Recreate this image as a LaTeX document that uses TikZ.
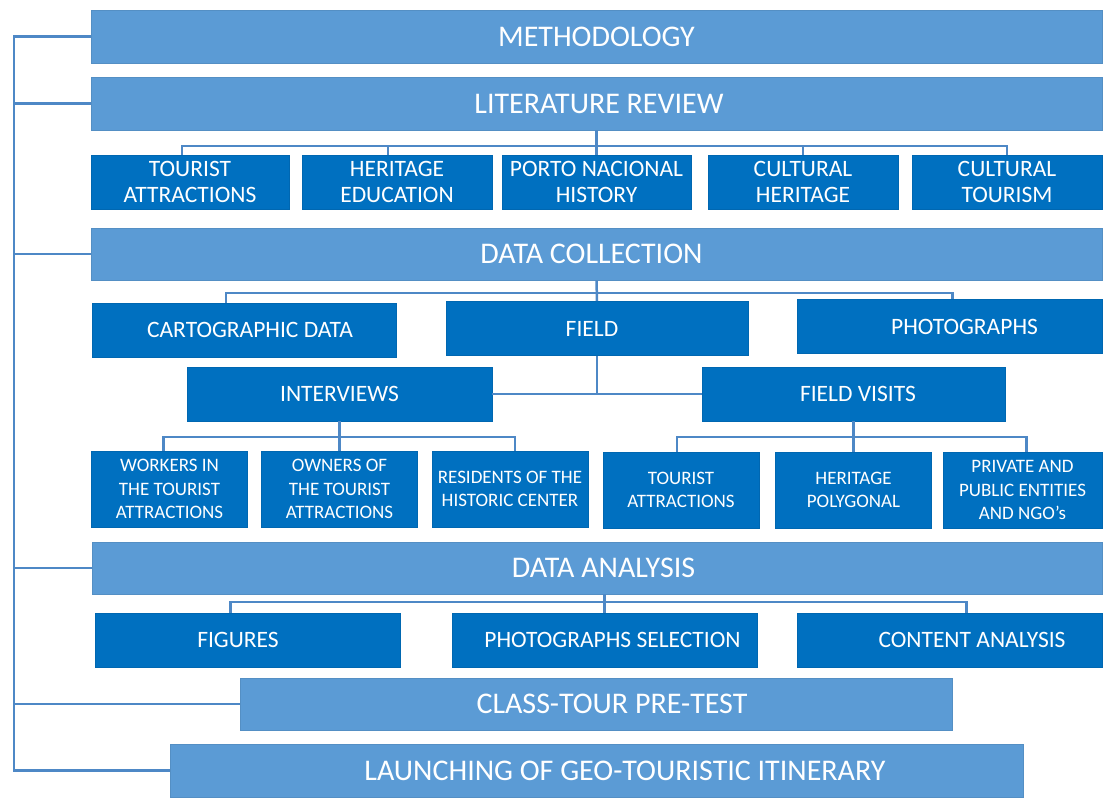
\documentclass[tikz,border=0pt]{standalone}
\usepackage{fontspec}
\setmainfont{Carlito}
\usepackage{tikz}
\usetikzlibrary{calc,positioning}
\definecolor{barblue}{RGB}{91,155,213}
\definecolor{boxblue}{RGB}{0,112,192}
\definecolor{linkblue}{RGB}{78,136,198}
\newcommand{\tshift}[1]{\hspace*{#1}}
\tikzset{
	bar/.style={rectangle, fill=barblue, draw=barblue!92!black, line width=0.6pt, text=white, inner sep=0pt, minimum height=53pt, font=\fontsize{30}{34}\selectfont},
	subbox/.style={rectangle, fill=boxblue, draw=boxblue!92!black, line width=0.6pt, text=white, inner sep=0pt, minimum width=304pt, minimum height=54pt, align=center, font=\fontsize{23.5}{26}\selectfont},
	smallbox/.style={subbox, minimum width=156pt, minimum height=76pt, font=\fontsize{19}{23.5}\selectfont},
	link/.style={draw=linkblue, line width=2.5pt},
}

\begin{document}
\begin{tikzpicture}[x=1pt,y=-1pt]
		\useasboundingbox (0,0) rectangle (1103,799);

		\node[bar, minimum width=1011pt] (meth) at (596.5,36.5) {METHODOLOGY};
		\node[bar, minimum width=1011pt] (litrev) at (596.5,103.5) {\tshift{5pt}LITERATURE REVIEW};

		\node[subbox, minimum width=198pt] (ta) at (190,182) {TOURIST\\ATTRACTIONS};
		\node[subbox, minimum width=190pt] (he) at (397,182) {HERITAGE\\EDUCATION};
		\node[subbox, minimum width=189pt] (pn) at (596.5,182) {PORTO NACIONAL\\HISTORY};
		\node[subbox, minimum width=190pt] (ch) at (803,182) {CULTURAL\\HERITAGE};
		\node[subbox, minimum width=190pt] (ct) at (1007,182) {CULTURAL\\TOURISM};

		\node[bar, minimum width=1011pt, minimum height=52pt] (dc) at (596.5,254) {\raisebox{-5pt}{DATA COLLECTION}\tshift{10pt}};

		\node[subbox] (carto) at (244,330) {\tshift{12pt}CARTOGRAPHIC DATA};
		\node[subbox, minimum width=302pt] (field) at (597,328.5) {FIELD\tshift{10pt}};
		\node[subbox, minimum width=305pt] (photo) at (949.5,326.5) {\tshift{30pt}PHOTOGRAPHS};

		\node[subbox, minimum width=305pt] (intv) at (339.5,394) {INTERVIEWS};
		\node[subbox, minimum width=303pt] (fv) at (853.5,394) {\tshift{9pt}FIELD VISITS};

		\node[smallbox] (workers) at (169.5,489) {WORKERS IN\\THE TOURIST\\ATTRACTIONS};
		\node[smallbox] (owners) at (339.5,489) {OWNERS OF\\THE TOURIST\\ATTRACTIONS};
		\node[smallbox] (resid) at (510,489) {RESIDENTS OF THE\\HISTORIC CENTER};
		\node[smallbox] (tavisit) at (681,490) {TOURIST\\ATTRACTIONS};
		\node[smallbox] (hpoly) at (853.5,490) {HERITAGE\\POLYGONAL};
		\node[smallbox, minimum width=159pt] (priv) at (1022.5,490) {PRIVATE AND\\PUBLIC ENTITIES\\AND NGO's};

		\node[bar, minimum width=1010pt, minimum height=52pt] (da) at (597,568) {\tshift{13pt}DATA ANALYSIS};

		\node[subbox, minimum width=305pt] (figs) at (247.5,640) {FIGURES\tshift{19pt}};
		\node[subbox, minimum width=305pt] (photosel) at (604.5,640) {\tshift{16pt}PHOTOGRAPHS SELECTION};
		\node[subbox, minimum width=305pt] (content) at (949.5,640) {\tshift{45pt}CONTENT ANALYSIS};

		\node[bar, minimum width=712pt, minimum height=52pt] (class) at (596,704) {\tshift{32pt}CLASS-TOUR PRE-TEST};
		\node[bar, minimum width=853pt] (launch) at (596.5,770.5) {\tshift{57pt}LAUNCHING OF GEO-TOURISTIC ITINERARY};

		\coordinate (trunk) at (14,0);
		\coordinate (lrbus) at (596.5,146);
		\coordinate (dcbus) at (596.5,293);
		\coordinate (ivbus) at (339.5,437);
		\coordinate (fvbus) at (853.5,437);
		\coordinate (dabus) at (604.5,602);

		\draw[link] (meth.west) -| (launch.west -| trunk) -- (launch.west);
		\foreach \n in {litrev,dc,da,class}
			\draw[link] (\n.west) -- (\n.west -| trunk);

		\draw[link] (litrev.south) -- (pn.north);
		\draw[link] (lrbus) -| ([xshift=-8pt]ta.north);
		\draw[link] (lrbus) -| ([xshift=-9pt]he.north);
		\draw[link] (lrbus) -| (ch.north);
		\draw[link] (lrbus) -| (ct.north);

		\draw[link] (dc.south) -- (field.north);
		\draw[link] (dcbus) -| ([xshift=-18pt]carto.north);
		\draw[link] (dcbus) -| ([xshift=3pt]photo.north);
		\draw[link] (field.south) -- (field.south |- intv.east);
		\draw[link] (intv.east) -- (fv.west);

		\draw[link] (intv.south) -- (owners.north);
		\draw[link] (ivbus) -| ([xshift=-6pt]workers.north);
		\draw[link] (ivbus) -| ([xshift=5pt]resid.north);
		\draw[link] (fv.south) -- (hpoly.north);
		\draw[link] (fvbus) -| ([xshift=-4pt]tavisit.north);
		\draw[link] (fvbus) -| ([xshift=4pt]priv.north);

		\draw[link] (photosel.north) -- (photosel.north |- da.south);
		\draw[link] (dabus) -| ([xshift=-17pt]figs.north);
		\draw[link] (dabus) -| ([xshift=17pt]content.north);
	\end{tikzpicture}
\end{document}
